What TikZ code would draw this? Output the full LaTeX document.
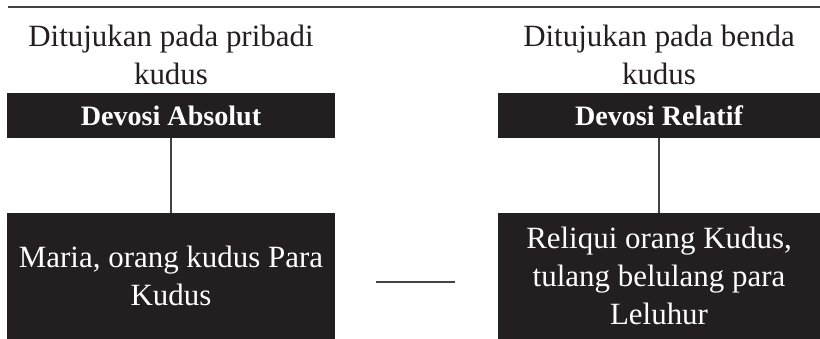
\documentclass[tikz,border=0pt]{standalone}
\usepackage{fontspec}
\setmainfont{Liberation Serif}
\usetikzlibrary{positioning}
\definecolor{ink}{HTML}{231F20}

\begin{document}
\begin{tikzpicture}[x=0.025cm,y=-0.025cm,
   note/.style={align=center,text=ink,inner sep=0pt,font=\fontsize{22}{27.6}\selectfont},
   head/.style={fill=ink,text=white,inner sep=0pt,minimum height=45*0.025cm,
                font=\fontsize{20}{24}\selectfont\bfseries},
   item/.style={fill=ink,text=white,align=center,inner sep=0pt,
                font=\fontsize{22}{27}\selectfont},
   link/.style={draw=ink!85,line width=1pt}]

   \useasboundingbox (0,0) rectangle (820,339);
   \draw[link] (8,7) -- (820,7);

   \node[note] (abs_note) at (171,55) {Ditujukan pada pribadi\\kudus};
   \node[note] (rel_note) at (659,55) {Ditujukan pada benda\\kudus};

   \node[head,minimum width=328*0.025cm] (abs) at (171,115.5) {Devosi Absolut};
   \node[head,minimum width=322*0.025cm] (rel) at (659,115.5) {Devosi Relatif};

   \node[item,minimum width=328*0.025cm,minimum height=126*0.025cm] (abs_ex) at (171,276)
        {Maria, orang kudus Para\\Kudus};
   \node[item,minimum width=322*0.025cm,minimum height=126*0.025cm] (rel_ex) at (659,276)
        {Reliqui orang Kudus,\\tulang belulang para\\Leluhur};

   \coordinate (gap_l) at (376,282);
   \coordinate (gap_r) at (455,282);

   \draw[link] (abs) -- (abs_ex);
   \draw[link] (rel) -- (rel_ex);
   \draw[link] (gap_l) -- (gap_r);
\end{tikzpicture}
\end{document}
